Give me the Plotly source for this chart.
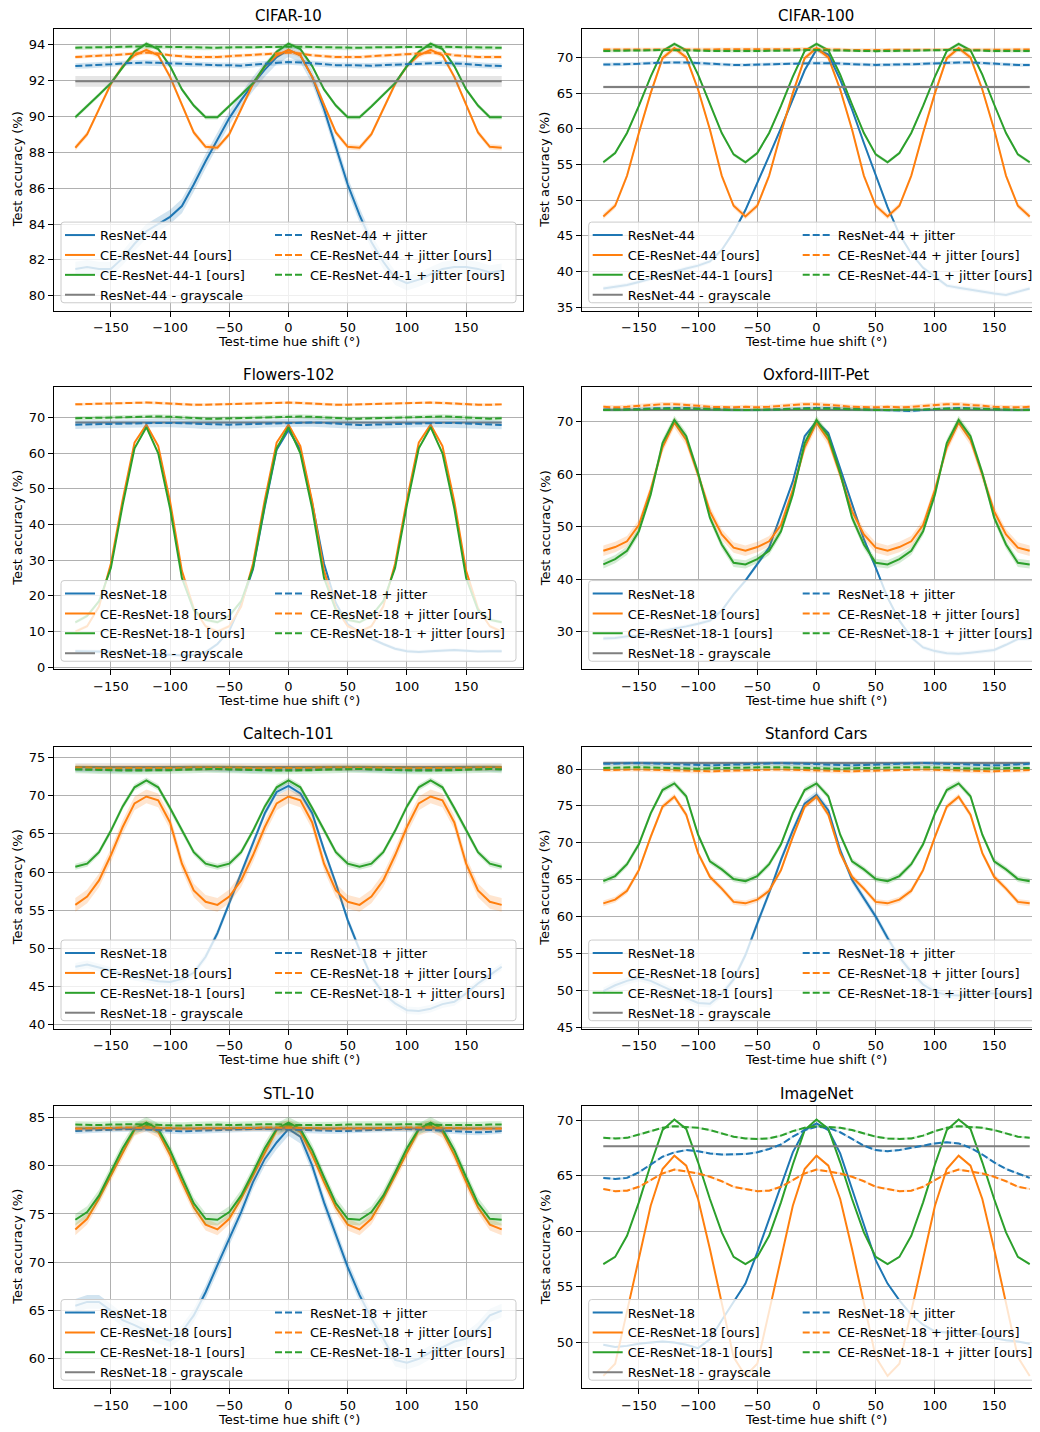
import plotly.graph_objects as go

# page body has an 8px margin; the figure is sized so the window shows 1040x1432
OFF = 8
W, H = 1040 - OFF, 1432 - OFF

hue = [-180, -170, -160, -150, -140, -130, -120, -110, -100, -90, -80, -70, -60, -50, -40, -30, -20, -10,
       0, 10, 20, 30, 40, 50, 60, 70, 80, 90, 100, 110, 120, 130, 140, 150, 160, 170, 180]

# ---------------- CIFAR-10 ----------------
c10_resnet = [81.5, 81.6, 81.5, 81.5, 82.1, 82.9, 83.6, 84.0, 84.4, 85.0, 86.2, 87.5, 88.7, 89.9, 90.9, 91.8, 92.6, 93.3,
              93.7, 93.4, 92.2, 90.4, 88.3, 86.2, 84.5, 83.0, 81.9, 81.0, 80.7, 80.9, 81.2, 81.5, 81.6, 81.6, 81.5, 81.3, 81.4]
c10_ce = [88.25, 89.0, 90.4, 91.8, 92.8, 93.4, 93.7, 93.4, 92.2, 90.6, 89.1, 88.3, 88.25, 89.0, 90.4, 91.8, 92.8, 93.4,
          93.7, 93.4, 92.2, 90.6, 89.1, 88.3, 88.25, 89.0, 90.4, 91.8, 92.8, 93.4, 93.7, 93.4, 92.2, 90.6, 89.1, 88.3, 88.25]
c10_ce1 = [89.95, 90.55, 91.2, 91.85, 92.7, 93.6, 94.05, 93.75, 92.8, 91.5, 90.6, 89.95, 89.95, 90.55, 91.2, 91.85, 92.8, 93.6,
           94.05, 93.75, 92.8, 91.5, 90.6, 89.95, 89.95, 90.55, 91.2, 91.85, 92.8, 93.6, 94.05, 93.75, 92.8, 91.5, 90.6, 89.95, 89.95]
c10_gray = 91.95
c10_resnet_j = [92.8, 92.82, 92.85, 92.9, 92.95, 92.98, 93.0, 92.98, 92.95, 92.92, 92.9, 92.88, 92.85, 92.85, 92.82, 92.88, 92.92, 92.98,
                93.02, 93.0, 92.95, 92.9, 92.85, 92.85, 92.82, 92.82, 92.85, 92.88, 92.9, 92.95, 92.98, 92.98, 92.95, 92.9, 92.85, 92.82, 92.8]
c10_ce_j = [93.3, 93.35, 93.38, 93.4, 93.45, 93.5, 93.55, 93.5, 93.4, 93.35, 93.3, 93.3, 93.3, 93.35, 93.38, 93.4, 93.45, 93.5,
            93.55, 93.5, 93.4, 93.35, 93.3, 93.3, 93.3, 93.35, 93.38, 93.4, 93.45, 93.5, 93.55, 93.5, 93.4, 93.35, 93.3, 93.3, 93.3]
c10_ce1_j = [93.82, 93.84, 93.85, 93.86, 93.88, 93.9, 93.9, 93.88, 93.86, 93.84, 93.82, 93.8, 93.82, 93.84, 93.85, 93.86, 93.88, 93.9,
             93.9, 93.88, 93.86, 93.84, 93.82, 93.8, 93.82, 93.84, 93.85, 93.86, 93.88, 93.9, 93.9, 93.88, 93.86, 93.84, 93.82, 93.8, 93.82]
c10_band = [0.4, 0.15, 0.12, 0.3, 0.15, 0.1, 0.12]

# ---------------- CIFAR-100 ----------------
c100_resnet = [37.6, 37.8, 38.1, 38.5, 39.0, 39.5, 40.0, 40.4, 40.8, 41.4, 43.0, 45.5, 48.6, 52.3, 56.2, 60.1, 64.1, 68.2,
               71.1, 70.4, 66.9, 62.7, 58.0, 53.4, 49.0, 45.2, 42.5, 40.5, 39.2, 38.0, 37.7, 37.4, 37.1, 36.9, 36.7, 37.1, 37.6]
c100_ce = [47.7, 49.2, 53.4, 59.4, 65.0, 69.9, 71.3, 70.0, 65.5, 59.9, 53.4, 49.2, 47.7, 49.2, 53.4, 59.4, 65.0, 69.9,
           71.3, 70.0, 65.5, 59.9, 53.4, 49.2, 47.7, 49.2, 53.4, 59.4, 65.0, 69.9, 71.3, 70.0, 65.5, 59.9, 53.4, 49.2, 47.7]
c100_ce1 = [55.3, 56.6, 59.4, 63.2, 67.3, 70.9, 71.9, 71.0, 67.6, 63.4, 59.4, 56.4, 55.3, 56.6, 59.4, 63.2, 67.3, 70.9,
            71.9, 71.0, 67.6, 63.4, 59.4, 56.4, 55.3, 56.6, 59.4, 63.2, 67.3, 70.9, 71.9, 71.0, 67.6, 63.4, 59.4, 56.4, 55.3]
c100_gray = 65.85
c100_resnet_j = [69.0, 69.0, 69.05, 69.1, 69.2, 69.3, 69.3, 69.3, 69.2, 69.1, 69.0, 68.95, 68.95, 69.0, 69.05, 69.1, 69.2, 69.25,
                 69.2, 69.2, 69.1, 69.05, 69.0, 68.95, 68.95, 69.0, 69.05, 69.1, 69.2, 69.3, 69.3, 69.3, 69.2, 69.1, 69.0, 68.95, 68.95]
c100_ce_j = [71.1, 71.1, 71.12, 71.15, 71.15, 71.15, 71.15, 71.12, 71.1, 71.05, 71.05, 71.05, 71.1, 71.1, 71.12, 71.15, 71.15, 71.2,
             71.2, 71.15, 71.1, 71.05, 71.05, 71.05, 71.05, 71.1, 71.12, 71.15, 71.15, 71.15, 71.15, 71.12, 71.1, 71.05, 71.05, 71.05, 71.1]
c100_ce1_j = [70.9, 70.9, 70.92, 70.95, 71.0, 71.05, 71.05, 71.0, 70.95, 70.9, 70.88, 70.88, 70.9, 70.9, 70.92, 70.95, 71.0, 71.05,
              71.05, 71.0, 70.95, 70.9, 70.88, 70.88, 70.9, 70.9, 70.92, 70.95, 71.0, 71.05, 71.05, 71.0, 70.95, 70.9, 70.88, 70.88, 70.9]
c100_band = [0.3, 0.4, 0.25, 0.2, 0.25, 0.25, 0.2]

# ---------------- Flowers-102 ----------------
fl_resnet = [4.5, 4.5, 4.4, 4.3, 4.2, 4.0, 3.8, 3.5, 3.4, 3.3, 3.4, 4.2, 6.5, 10.2, 17.7, 27.5, 45.0, 61.0,
             66.5, 61.0, 46.0, 29.0, 18.0, 12.0, 9.8, 8.0, 6.5, 5.2, 4.5, 4.3, 4.5, 4.7, 4.8, 4.6, 4.4, 4.5, 4.5]
fl_ce = [10.0, 11.5, 17.0, 29.0, 47.0, 63.0, 68.0, 62.0, 46.5, 27.0, 16.5, 11.5, 10.0, 11.5, 17.0, 29.0, 47.0, 63.0,
         68.0, 62.0, 46.5, 27.0, 16.5, 11.5, 10.0, 11.5, 17.0, 29.0, 47.0, 63.0, 68.0, 62.0, 46.5, 27.0, 16.5, 11.5, 10.0]
fl_ce1 = [12.6, 14.4, 18.5, 27.8, 45.5, 61.4, 67.3, 60.0, 44.5, 25.0, 16.0, 13.3, 12.6, 14.4, 18.5, 27.8, 45.5, 61.4,
          67.3, 60.0, 44.5, 25.0, 16.0, 13.3, 12.6, 14.4, 18.5, 27.8, 45.5, 61.4, 67.3, 60.0, 44.5, 25.0, 16.0, 13.3, 12.6]
fl_gray = 68.6
fl_resnet_j = [68.0, 68.1, 68.2, 68.3, 68.4, 68.5, 68.5, 68.5, 68.5, 68.4, 68.2, 68.0, 67.9, 68.0, 68.1, 68.2, 68.4, 68.5,
               68.6, 68.6, 68.6, 68.5, 68.3, 68.1, 67.9, 68.0, 68.1, 68.2, 68.4, 68.5, 68.5, 68.5, 68.5, 68.4, 68.2, 68.0, 67.9]
fl_ce_j = [73.7, 73.8, 73.9, 74.0, 74.1, 74.2, 74.2, 74.1, 73.9, 73.7, 73.6, 73.6, 73.7, 73.8, 73.9, 74.0, 74.1, 74.2,
           74.2, 74.1, 73.9, 73.7, 73.6, 73.6, 73.7, 73.8, 73.9, 74.0, 74.1, 74.2, 74.2, 74.1, 73.9, 73.7, 73.6, 73.6, 73.7]
fl_ce1_j = [69.8, 69.9, 70.0, 70.1, 70.2, 70.3, 70.4, 70.3, 70.2, 70.0, 69.8, 69.7, 69.7, 69.8, 69.9, 70.0, 70.1, 70.3,
            70.4, 70.3, 70.2, 70.0, 69.8, 69.7, 69.7, 69.8, 69.9, 70.0, 70.1, 70.3, 70.4, 70.3, 70.2, 70.0, 69.8, 69.7, 69.8]
fl_band = [0.5, 0.5, 0.5, 0.3, 1.2, 0.4, 0.6]

# ---------------- Oxford-IIIT-Pet ----------------
ox_resnet = [28.7, 28.8, 29.1, 29.2, 29.7, 30.1, 30.5, 31.0, 31.5, 32.1, 34.0, 37.1, 39.7, 42.8, 46.0, 52.3, 58.6, 67.2,
             70.0, 67.8, 61.2, 54.2, 47.6, 42.2, 36.5, 32.1, 28.9, 27.0, 26.3, 25.9, 25.8, 26.0, 26.2, 26.5, 27.5, 28.6, 28.7]
ox_ce = [45.4, 46.1, 47.2, 50.3, 57.0, 65.1, 69.8, 66.5, 59.9, 52.9, 48.5, 46.0, 45.4, 46.1, 47.2, 50.3, 57.0, 65.1,
         69.8, 66.5, 59.9, 52.9, 48.5, 46.0, 45.4, 46.1, 47.2, 50.3, 57.0, 65.1, 69.8, 66.5, 59.9, 52.9, 48.5, 46.0, 45.4]
ox_ce1 = [42.8, 43.8, 45.4, 49.1, 56.1, 65.9, 70.3, 67.2, 60.2, 51.7, 46.6, 43.1, 42.8, 43.8, 45.4, 49.1, 56.1, 65.9,
          70.3, 67.2, 60.2, 51.7, 46.6, 43.1, 42.8, 43.8, 45.4, 49.1, 56.1, 65.9, 70.3, 67.2, 60.2, 51.7, 46.6, 43.1, 42.8]
ox_gray = 72.2
ox_resnet_j = [72.3, 72.3, 72.3, 72.4, 72.5, 72.6, 72.6, 72.6, 72.5, 72.4, 72.3, 72.2, 72.2, 72.2, 72.3, 72.4, 72.5, 72.6,
               72.6, 72.6, 72.5, 72.4, 72.3, 72.2, 72.1, 72.0, 72.0, 72.2, 72.4, 72.5, 72.6, 72.5, 72.4, 72.3, 72.2, 72.2, 72.3]
ox_ce_j = [72.8, 72.7, 72.8, 73.0, 73.2, 73.3, 73.3, 73.2, 73.0, 72.8, 72.7, 72.7, 72.8, 72.7, 72.8, 73.0, 73.2, 73.3,
           73.3, 73.2, 73.0, 72.8, 72.7, 72.7, 72.8, 72.7, 72.8, 73.0, 73.2, 73.3, 73.3, 73.2, 73.0, 72.8, 72.7, 72.7, 72.8]
ox_ce1_j = [72.2, 72.2, 72.25, 72.3, 72.4, 72.45, 72.5, 72.45, 72.4, 72.3, 72.25, 72.2, 72.2, 72.2, 72.25, 72.3, 72.4, 72.45,
            72.5, 72.45, 72.4, 72.3, 72.25, 72.2, 72.2, 72.2, 72.25, 72.3, 72.4, 72.45, 72.5, 72.45, 72.4, 72.3, 72.25, 72.2, 72.2]
ox_band = [0.4, 1.0, 0.8, 0.3, 0.3, 0.4, 0.3]

# ---------------- Caltech-101 ----------------
ca_resnet = [47.6, 47.9, 47.5, 47.0, 46.6, 46.3, 46.0, 45.7, 45.6, 46.0, 46.8, 48.9, 52.0, 55.9, 59.8, 63.7, 67.7, 70.5,
             71.3, 70.3, 67.7, 62.9, 58.5, 53.7, 49.8, 46.3, 44.1, 42.8, 41.9, 41.8, 42.1, 42.7, 43.0, 44.1, 45.4, 46.5, 47.6]
ca_ce = [55.7, 56.8, 58.9, 62.2, 65.9, 69.0, 69.9, 69.4, 66.5, 61.1, 57.6, 56.1, 55.7, 56.8, 58.9, 62.2, 65.9, 69.0,
         69.9, 69.4, 66.5, 61.1, 57.6, 56.1, 55.7, 56.8, 58.9, 62.2, 65.9, 69.0, 69.9, 69.4, 66.5, 61.1, 57.6, 56.1, 55.7]
ca_ce1 = [60.7, 61.1, 62.6, 65.4, 68.6, 71.1, 72.0, 71.1, 68.4, 65.5, 62.6, 61.1, 60.7, 61.1, 62.6, 65.4, 68.6, 71.1,
          72.0, 71.1, 68.4, 65.5, 62.6, 61.1, 60.7, 61.1, 62.6, 65.4, 68.6, 71.1, 72.0, 71.1, 68.4, 65.5, 62.6, 61.1, 60.7]
ca_gray = 73.75
ca_resnet_j = [73.5, 73.5, 73.45, 73.4, 73.4, 73.4, 73.45, 73.5, 73.55, 73.6, 73.6, 73.55, 73.5, 73.5, 73.45, 73.4, 73.4, 73.45,
               73.5, 73.5, 73.55, 73.6, 73.6, 73.55, 73.5, 73.5, 73.45, 73.4, 73.4, 73.45, 73.5, 73.5, 73.55, 73.6, 73.6, 73.55, 73.5]
ca_ce_j = [73.7, 73.7, 73.6, 73.6, 73.6, 73.6, 73.6, 73.6, 73.6, 73.65, 73.7, 73.7, 73.7, 73.7, 73.65, 73.6, 73.6, 73.6,
           73.6, 73.6, 73.65, 73.7, 73.7, 73.7, 73.7, 73.7, 73.65, 73.6, 73.6, 73.6, 73.6, 73.6, 73.6, 73.65, 73.7, 73.7, 73.7]
ca_ce1_j = [73.45, 73.4, 73.35, 73.3, 73.3, 73.3, 73.3, 73.3, 73.35, 73.4, 73.45, 73.5, 73.5, 73.45, 73.4, 73.35, 73.3, 73.3,
            73.3, 73.3, 73.35, 73.4, 73.45, 73.5, 73.5, 73.45, 73.4, 73.35, 73.3, 73.3, 73.3, 73.3, 73.35, 73.4, 73.45, 73.5, 73.45]
ca_band = [0.5, 0.9, 0.4, 0.5, 0.4, 0.4, 0.5]

# ---------------- Stanford Cars ----------------
sc_resnet = [49.9, 50.7, 51.3, 51.7, 51.3, 50.6, 49.8, 49.0, 48.3, 48.2, 49.5, 51.5, 54.8, 59.1, 63.2, 67.7, 71.7, 75.3,
             76.5, 74.4, 69.0, 65.0, 62.5, 60.0, 57.1, 54.5, 52.5, 50.8, 49.8, 49.4, 49.3, 49.5, 49.6, 49.6, 49.5, 49.4, 49.6]
sc_ce = [61.8, 62.3, 63.5, 66.3, 70.8, 74.9, 76.25, 73.8, 68.6, 65.4, 63.8, 62.0, 61.8, 62.3, 63.5, 66.3, 70.8, 74.9,
         76.25, 73.8, 68.6, 65.4, 63.8, 62.0, 61.8, 62.3, 63.5, 66.3, 70.8, 74.9, 76.25, 73.8, 68.6, 65.4, 63.8, 62.0, 61.8]
sc_ce1 = [64.8, 65.5, 67.1, 69.8, 74.0, 77.15, 78.05, 76.3, 71.1, 67.5, 66.4, 65.1, 64.8, 65.5, 67.1, 69.8, 74.0, 77.15,
          78.05, 76.3, 71.1, 67.5, 66.4, 65.1, 64.8, 65.5, 67.1, 69.8, 74.0, 77.15, 78.05, 76.3, 71.1, 67.5, 66.4, 65.1, 64.8]
sc_gray = 80.8
sc_resnet_j = [80.7, 80.75, 80.8, 80.8, 80.75, 80.7, 80.6, 80.55, 80.5, 80.5, 80.55, 80.6, 80.7, 80.75, 80.8, 80.8, 80.75, 80.7,
               80.6, 80.55, 80.5, 80.5, 80.55, 80.6, 80.7, 80.75, 80.8, 80.8, 80.75, 80.7, 80.6, 80.55, 80.5, 80.5, 80.55, 80.6, 80.7]
sc_ce_j = [79.85, 79.9, 79.95, 79.95, 79.9, 79.85, 79.8, 79.75, 79.7, 79.7, 79.75, 79.8, 79.85, 79.9, 79.95, 79.95, 79.9, 79.85,
           79.8, 79.75, 79.7, 79.7, 79.75, 79.8, 79.85, 79.9, 79.95, 79.95, 79.9, 79.85, 79.8, 79.75, 79.7, 79.7, 79.75, 79.8, 79.85]
sc_ce1_j = [80.15, 80.2, 80.25, 80.25, 80.2, 80.15, 80.1, 80.05, 80.05, 80.1, 80.15, 80.2, 80.2, 80.2, 80.25, 80.25, 80.2, 80.15,
            80.1, 80.05, 80.05, 80.1, 80.15, 80.2, 80.2, 80.2, 80.25, 80.25, 80.2, 80.15, 80.1, 80.05, 80.05, 80.1, 80.15, 80.2, 80.15]
sc_band = [0.5, 0.4, 0.4, 0.3, 0.3, 0.3, 0.3]

# ---------------- STL-10 ----------------
stl_resnet = [65.5, 65.9, 65.9, 65.0, 64.0, 63.5, 62.9, 62.3, 61.9, 62.8, 64.5, 66.9, 69.7, 72.4, 75.2, 78.3, 80.7, 82.4,
              83.8, 83.0, 80.0, 76.2, 72.8, 69.5, 66.6, 64.2, 62.1, 59.9, 59.6, 60.0, 60.7, 61.2, 61.8, 62.1, 63.1, 64.5, 65.0]
stl_ce = [73.4, 74.5, 76.6, 79.0, 81.4, 83.7, 84.15, 83.5, 81.1, 78.3, 75.7, 73.9, 73.4, 74.5, 76.6, 79.0, 81.4, 83.7,
          84.15, 83.5, 81.1, 78.3, 75.7, 73.9, 73.4, 74.5, 76.6, 79.0, 81.4, 83.7, 84.15, 83.5, 81.1, 78.3, 75.7, 73.9, 73.4]
stl_ce1 = [74.4, 75.2, 76.9, 79.3, 81.8, 83.8, 84.45, 83.8, 81.6, 78.8, 76.1, 74.5, 74.4, 75.2, 76.9, 79.3, 81.8, 83.8,
           84.45, 83.8, 81.6, 78.8, 76.1, 74.5, 74.4, 75.2, 76.9, 79.3, 81.8, 83.8, 84.45, 83.8, 81.6, 78.8, 76.1, 74.5, 74.4]
stl_gray = 83.85
stl_resnet_j = [83.6, 83.65, 83.7, 83.75, 83.8, 83.8, 83.75, 83.7, 83.6, 83.55, 83.6, 83.65, 83.7, 83.7, 83.75, 83.8, 83.8, 83.8,
                83.75, 83.7, 83.65, 83.6, 83.6, 83.6, 83.65, 83.7, 83.75, 83.8, 83.8, 83.75, 83.7, 83.65, 83.6, 83.5, 83.45, 83.5, 83.6]
stl_ce_j = [83.85, 83.85, 83.9, 83.9, 83.95, 83.95, 83.95, 83.9, 83.9, 83.85, 83.85, 83.85, 83.85, 83.85, 83.9, 83.9, 83.95, 83.95,
            83.95, 83.9, 83.9, 83.85, 83.85, 83.85, 83.85, 83.85, 83.9, 83.9, 83.95, 83.95, 83.95, 83.9, 83.9, 83.85, 83.85, 83.85, 83.85]
stl_ce1_j = [84.25, 84.2, 84.2, 84.25, 84.3, 84.3, 84.25, 84.2, 84.2, 84.15, 84.2, 84.25, 84.25, 84.2, 84.2, 84.25, 84.3, 84.3,
             84.25, 84.2, 84.2, 84.15, 84.2, 84.25, 84.25, 84.2, 84.2, 84.25, 84.3, 84.3, 84.25, 84.2, 84.2, 84.15, 84.2, 84.25, 84.25]
stl_band = [0.7, 0.6, 0.6, 0.2, 0.3, 0.3, 0.35]

# ---------------- ImageNet ----------------
in_resnet = [49.8, 49.6, 49.7, 49.9, 50.0, 50.1, 50.0, 49.8, 49.5, 50.3, 52.0, 53.7, 55.3, 58.1, 61.1, 64.1, 67.1, 69.1,
             69.7, 69.1, 67.0, 63.8, 60.5, 57.4, 55.3, 53.8, 52.5, 51.6, 51.0, 50.9, 51.0, 50.9, 50.7, 50.4, 50.2, 50.1, 49.9]
in_ce = [47.0, 48.1, 52.8, 57.6, 62.3, 65.6, 66.8, 65.9, 62.9, 58.4, 53.7, 48.7, 47.0, 48.1, 52.8, 57.6, 62.3, 65.6,
         66.8, 65.9, 62.9, 58.4, 53.7, 48.7, 47.0, 48.1, 52.8, 57.6, 62.3, 65.6, 66.8, 65.9, 62.9, 58.4, 53.7, 48.7, 47.0]
in_ce1 = [57.05, 57.7, 59.6, 62.6, 66.0, 69.1, 70.05, 69.2, 66.2, 62.9, 59.9, 57.7, 57.05, 57.7, 59.6, 62.6, 66.0, 69.1,
          70.05, 69.2, 66.2, 62.9, 59.9, 57.7, 57.05, 57.7, 59.6, 62.6, 66.0, 69.1, 70.05, 69.2, 66.2, 62.9, 59.9, 57.7, 57.05]
in_gray = 67.65
in_resnet_j = [64.8, 64.7, 64.8, 65.3, 66.0, 66.7, 67.1, 67.3, 67.2, 67.0, 66.9, 66.9, 66.95, 67.1, 67.4, 67.8, 68.5, 69.1,
               69.4, 69.3, 68.9, 68.3, 67.7, 67.3, 67.2, 67.3, 67.5, 67.7, 67.9, 68.0, 67.9, 67.5, 66.9, 66.2, 65.6, 65.2, 64.8]
in_ce_j = [63.8, 63.6, 63.65, 64.0, 64.6, 65.2, 65.55, 65.4, 65.2, 64.9, 64.5, 64.0, 63.8, 63.6, 63.65, 64.0, 64.6, 65.2,
           65.55, 65.4, 65.2, 64.9, 64.5, 64.0, 63.8, 63.6, 63.65, 64.0, 64.6, 65.2, 65.55, 65.4, 65.2, 64.9, 64.5, 64.0, 63.8]
in_ce1_j = [68.4, 68.35, 68.4, 68.7, 69.0, 69.3, 69.45, 69.4, 69.3, 69.1, 68.8, 68.5, 68.35, 68.3, 68.35, 68.6, 69.0, 69.3,
            69.45, 69.4, 69.3, 69.1, 68.8, 68.5, 68.35, 68.3, 68.35, 68.6, 69.0, 69.3, 69.45, 69.4, 69.3, 69.1, 68.8, 68.5, 68.4]
in_band = [0.1, 0.1, 0.1, 0.05, 0.1, 0.1, 0.1]

x_ticks = [-150, -100, -50, 0, 50, 100, 150]

PANELS = [
    dict(title="CIFAR-10", net="ResNet-44", yr=[79.17, 94.87], dt=2,
         s=[c10_resnet, c10_ce, c10_ce1, c10_gray, c10_resnet_j, c10_ce_j, c10_ce1_j], band=c10_band),
    dict(title="CIFAR-100", net="ResNet-44", yr=[34.48, 74.0], dt=5,
         s=[c100_resnet, c100_ce, c100_ce1, c100_gray, c100_resnet_j, c100_ce_j, c100_ce1_j], band=c100_band),
    dict(title="Flowers-102", net="ResNet-18", yr=[-0.56, 78.46], dt=10,
         s=[fl_resnet, fl_ce, fl_ce1, fl_gray, fl_resnet_j, fl_ce_j, fl_ce1_j], band=fl_band),
    dict(title="Oxford-IIIT-Pet", net="ResNet-18", yr=[22.85, 76.5], dt=10,
         s=[ox_resnet, ox_ce, ox_ce1, ox_gray, ox_resnet_j, ox_ce_j, ox_ce1_j], band=ox_band),
    dict(title="Caltech-101", net="ResNet-18", yr=[39.48, 76.4], dt=5,
         s=[ca_resnet, ca_ce, ca_ce1, ca_gray, ca_resnet_j, ca_ce_j, ca_ce1_j], band=ca_band),
    dict(title="Stanford Cars", net="ResNet-18", yr=[44.82, 83.0], dt=5,
         s=[sc_resnet, sc_ce, sc_ce1, sc_gray, sc_resnet_j, sc_ce_j, sc_ce1_j], band=sc_band),
    dict(title="STL-10", net="ResNet-18", yr=[56.97, 86.14], dt=5,
         s=[stl_resnet, stl_ce, stl_ce1, stl_gray, stl_resnet_j, stl_ce_j, stl_ce1_j], band=stl_band),
    dict(title="ImageNet", net="ResNet-18", yr=[45.9, 71.23], dt=5,
         s=[in_resnet, in_ce, in_ce1, in_gray, in_resnet_j, in_ce_j, in_ce1_j], band=in_band),
]

COLORS = ["#1f77b4", "#ff7f0e", "#2ca02c", "#7f7f7f", "#1f77b4", "#ff7f0e", "#2ca02c"]
DASH = ["solid", "solid", "solid", "solid", "7px,3px", "7px,3px", "7px,3px"]
FONT = "DejaVu Sans"


def rgba(hexc, a):
    h = hexc.lstrip("#")
    return "rgba(%d,%d,%d,%s)" % (int(h[0:2], 16), int(h[2:4], 16), int(h[4:6], 16), a)


def labels(net):
    return [net, "CE-%s [ours]" % net, "CE-%s-1 [ours]" % net, "%s - grayscale" % net,
            "%s + jitter" % net, "CE-%s + jitter [ours]" % net, "CE-%s-1 + jitter [ours]" % net]


# pixel geometry (window coordinates)
COL_X = [(54, 523), (582, 1040)]
ROW_TOP = [29, 389, 750, 1111]
PLOT_H = 283
XR = [[-198, 198], [-198, 188.7]]


def px(x):
    return (x - OFF) / W


def py(y):
    return 1 - (y - OFF) / H


fig = go.Figure()
layout = dict(width=W, height=H, margin=dict(l=0, r=0, t=0, b=0),
              paper_bgcolor="white", plot_bgcolor="white",
              font=dict(family=FONT, size=13, color="black"), showlegend=True)
annotations = []
shapes = []

for i, p in enumerate(PANELS):
    r, c = divmod(i, 2)
    x0, x1 = COL_X[c]
    top = ROW_TOP[r]
    bot = top + PLOT_H
    xa = "xaxis" if i == 0 else "xaxis%d" % (i + 1)
    ya = "yaxis" if i == 0 else "yaxis%d" % (i + 1)
    xref = "x" if i == 0 else "x%d" % (i + 1)
    yref = "y" if i == 0 else "y%d" % (i + 1)
    layout[xa] = dict(domain=[px(x0), min(1.0, px(x1))], range=XR[c], anchor=yref,
                      tickvals=x_ticks, ticks="outside", ticklen=5, tickwidth=1, tickcolor="black",
                      showline=True, linecolor="black", linewidth=1, mirror=True,
                      showgrid=True, gridcolor="#b0b0b0", gridwidth=1, zeroline=False,
                      tickfont=dict(size=13, family=FONT, color="black"))
    layout[ya] = dict(domain=[py(bot), py(top)], range=p["yr"], anchor=xref,
                      tick0=0, dtick=p["dt"], ticks="outside", ticklen=5, tickwidth=1, tickcolor="black",
                      showline=True, linecolor="black", linewidth=1, mirror=(c == 0),
                      showgrid=True, gridcolor="#b0b0b0", gridwidth=1, zeroline=False,
                      tickfont=dict(size=13, family=FONT, color="black"))

    labs = labels(p["net"])
    leg_ids = []
    for k in range(2):
        idx = 2 * i + k + 1
        leg_ids.append("legend" if idx == 1 else "legend%d" % idx)

    for j, ys in enumerate(p["s"]):
        yv = ys if isinstance(ys, list) else [ys] * len(hue)
        b = p["band"][j]
        upper = [v + b for v in yv]
        lower = [v - b for v in yv]
        fig.add_trace(go.Scatter(x=hue + hue[::-1], y=upper + lower[::-1], fill="toself",
                                 fillcolor=rgba(COLORS[j], 0.2), line=dict(width=0),
                                 mode="lines", hoverinfo="skip", showlegend=False,
                                 xaxis=xref, yaxis=yref))
        fig.add_trace(go.Scatter(x=hue, y=yv, mode="lines", name=labs[j],
                                 line=dict(color=COLORS[j], width=2, dash=DASH[j]),
                                 xaxis=xref, yaxis=yref,
                                 legend=leg_ids[0] if j < 4 else leg_ids[1]))

    # legend placement
    lx = 61 if c == 0 else 588.7
    box_top = top + 194
    box_bot = top + 275
    box_r = lx + 455
    col_line = [lx + 4, lx + 214]
    for k in range(2):
        layout[leg_ids[k]] = dict(x=px(col_line[k] - 5), y=py(box_top - 2), xanchor="left", yanchor="top",
                                  bgcolor="rgba(0,0,0,0)", borderwidth=0,
                                  font=dict(family=FONT, size=13, color="black"),
                                  tracegroupgap=0, traceorder="normal")
    # legend frame (rounded rectangle)
    rx, ry = 3 / W, 3 / H
    X0, X1, Y0, Y1 = px(lx), px(box_r), py(box_bot), py(box_top)
    path = ("M %f,%f L %f,%f Q %f,%f %f,%f L %f,%f Q %f,%f %f,%f L %f,%f Q %f,%f %f,%f L %f,%f Q %f,%f %f,%f Z" %
            (X0 + rx, Y0, X1 - rx, Y0, X1, Y0, X1, Y0 + ry, X1, Y1 - ry, X1, Y1, X1 - rx, Y1,
             X0 + rx, Y1, X0, Y1, X0, Y1 - ry, X0, Y0 + ry, X0, Y0, X0 + rx, Y0))
    shapes.append(dict(type="path", path=path, xref="paper", yref="paper", layer="above",
                       fillcolor="rgba(255,255,255,0.8)", line=dict(color="#cccccc", width=1)))

    # titles and axis labels
    cx = (x0 + x1) / 2 if c == 0 else (x0 + 1050.6) / 2
    annotations.append(dict(text=p["title"], x=px(cx), y=py(top - 12.5), xref="paper", yref="paper",
                            showarrow=False, xanchor="center", yanchor="middle",
                            font=dict(family=FONT, size=15, color="black")))
    annotations.append(dict(text="Test-time hue shift (°)", x=px(cx), y=py(bot + 31), xref="paper", yref="paper",
                            showarrow=False, xanchor="center", yanchor="middle",
                            font=dict(family=FONT, size=13, color="black")))
    annotations.append(dict(text="Test accuracy (%)", x=px(17.5 if c == 0 else 545), y=py((top + bot) / 2),
                            xref="paper", yref="paper", showarrow=False, textangle=-90,
                            xanchor="center", yanchor="middle",
                            font=dict(family=FONT, size=13, color="black")))

layout["annotations"] = annotations
layout["shapes"] = shapes
fig.update_layout(**layout)
fig.write_html("out.html")
